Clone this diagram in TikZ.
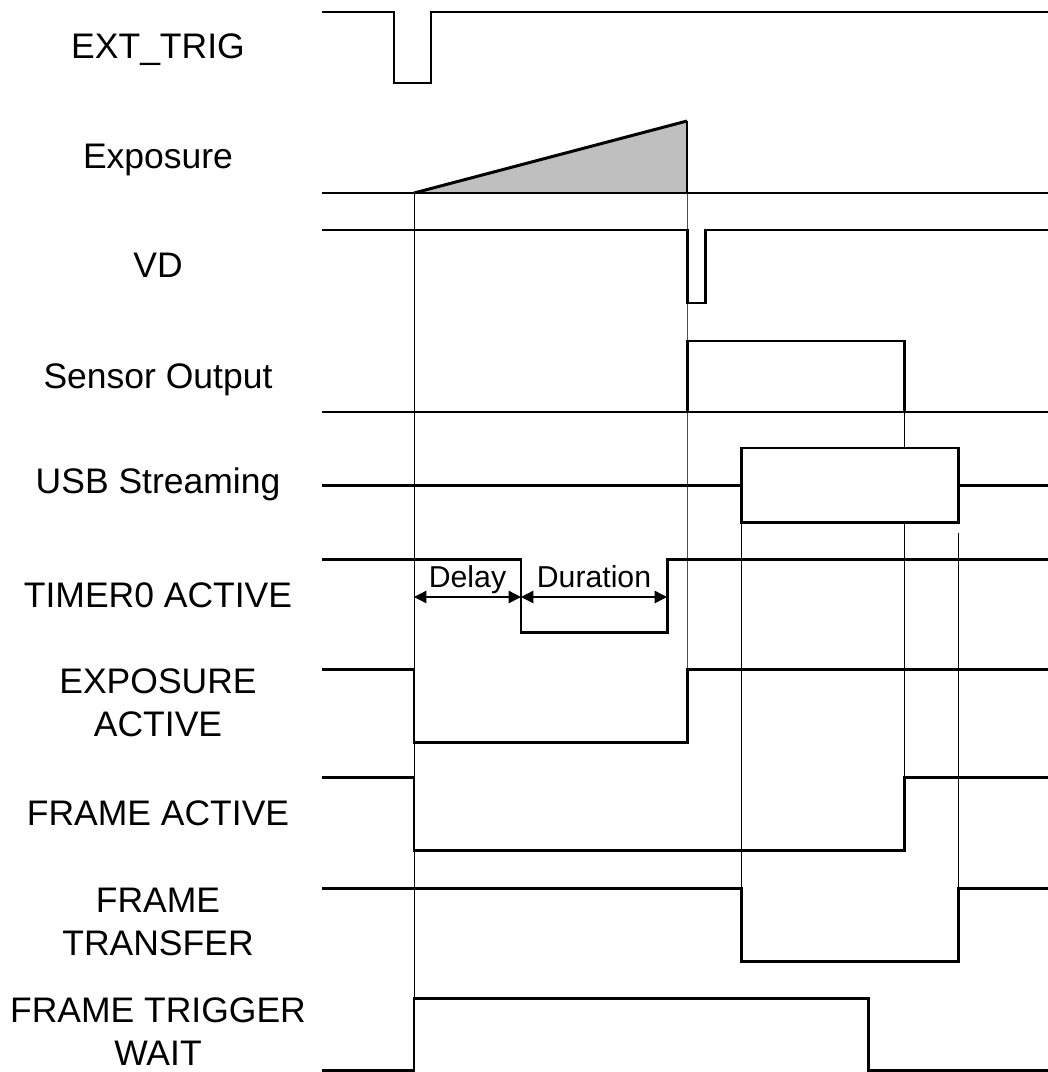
\documentclass[tikz,border=0pt]{standalone}
\usepackage{fontspec}
\setmainfont{Liberation Sans}
\usetikzlibrary{arrows.meta}

\begin{document}
\begin{tikzpicture}[x=0.02cm, y=-0.02cm,
  sig/.style={line width=1.7pt},
  guide/.style={line width=0.5pt},
  siglabel/.style={align=center, inner sep=0pt, font=\fontsize{20.2}{24.4}\selectfont},
  span/.style={line width=0.8pt, {Triangle[length=7pt,width=7pt]}-{Triangle[length=7pt,width=7pt]}},
  spanlabel/.style={anchor=base, inner sep=0pt, font=\fontsize{17.2}{20}\selectfont}]
\useasboundingbox (0,0) rectangle (1048,1072);

\def\xs{322};
\def\xe{1048};
\def\xl{158};

\def\ttrig{394};
\def\ttrigb{431};
\def\texp{414};
\def\tdel{521};
\def\tdur{667};
\def\tvd{687};
\def\tvdb{705};
\def\tusb{741};
\def\twait{868};
\def\tsen{904};
\def\tusbb{958};

% guide lines
\draw[guide] (\texp, 193) -- (\texp, 1070);
\draw[guide, black!70] (\tvd, 193) -- (\tvd, 669);
\draw[guide] (\tusb, 522) -- (\tusb, 888);
\draw[guide] (\tsen, 412) -- (\tsen, 777);
\draw[guide] (\tusbb, 533) -- (\tusbb, 888);

% labels
\node[siglabel, anchor=base] (trig) at (\xl, 58) {EXT\_TRIG};
\node[siglabel, anchor=base] (exp) at (\xl, 168) {Exposure};
\node[siglabel, anchor=base] (vd) at (\xl, 277) {VD};
\node[siglabel, anchor=base] (sen) at (\xl, 388) {Sensor Output};
\node[siglabel, anchor=base] (usb) at (\xl, 493) {USB Streaming};
\node[siglabel, anchor=base] (timer) at (\xl, 607) {TIMER0 ACTIVE};
\node[siglabel] (expact) at (\xl, 703) {EXPOSURE\\ACTIVE};
\node[siglabel, anchor=base] (frmact) at (\xl, 825) {FRAME ACTIVE};
\node[siglabel] (frmtr) at (\xl, 922) {FRAME\\TRANSFER};
\node[siglabel] (frmwait) at (\xl, 1032) {FRAME TRIGGER\\WAIT};

% EXT_TRIG
\draw[sig] (\xs, 12) -- (\ttrig, 12) -- (\ttrig, 83) -- (\ttrigb, 83) -- (\ttrigb, 12) -- (\xe, 12);

% Exposure
\fill[gray!50] (\texp, 193) -- (\tvd, 121) -- (\tvd, 193) -- cycle;
\draw[sig] (\texp, 193) -- (\tvd, 121);
\draw[line width=1.1pt] (\tvd, 121) -- (\tvd, 193);
\draw[sig] (\xs, 193) -- (\xe, 193);

% VD
\draw[sig] (\xs, 230) -- (\tvd, 230) -- (\tvd, 303) -- (\tvdb, 303) -- (\tvdb, 230) -- (\xe, 230);

% Sensor Output
\draw[sig] (\xs, 412) -- (\tvd, 412) -- (\tvd, 341) -- (\tsen, 341) -- (\tsen, 412) -- (\xe, 412);
\draw[sig] (\tvd, 412) -- (\tsen, 412);

% USB Streaming
\draw[sig] (\xs, 485) -- (\tusb, 485);
\filldraw[sig, fill=white] (\tusb, 448) rectangle (\tusbb, 522);
\draw[sig] (\tusbb, 485) -- (\xe, 485);

% TIMER0 ACTIVE
\draw[sig] (\xs, 559) -- (\tdel, 559) -- (\tdel, 632) -- (\tdur, 632) -- (\tdur, 559) -- (\xe, 559);
\draw[span] (\texp, 597) -- (\tdel, 597);
\draw[span] (\tdel, 597) -- (\tdur, 597);
\node[spanlabel] (delay) at (467.5, 587) {Delay};
\node[spanlabel] (dur) at (594, 587) {Duration};

% EXPOSURE ACTIVE
\draw[sig] (\xs, 669) -- (\texp, 669) -- (\texp, 742) -- (\tvd, 742) -- (\tvd, 669) -- (\xe, 669);

% FRAME ACTIVE
\draw[sig] (\xs, 777) -- (\texp, 777) -- (\texp, 850) -- (\tsen, 850) -- (\tsen, 777) -- (\xe, 777);

% FRAME TRANSFER
\draw[sig] (\xs, 888) -- (\tusb, 888) -- (\tusb, 961) -- (\tusbb, 961) -- (\tusbb, 888) -- (\xe, 888);

% FRAME TRIGGER WAIT
\draw[sig] (\xs, 1070) -- (\texp, 1070) -- (\texp, 998) -- (\twait, 998) -- (\twait, 1070) -- (\xe, 1070);

\end{tikzpicture}
\end{document}
